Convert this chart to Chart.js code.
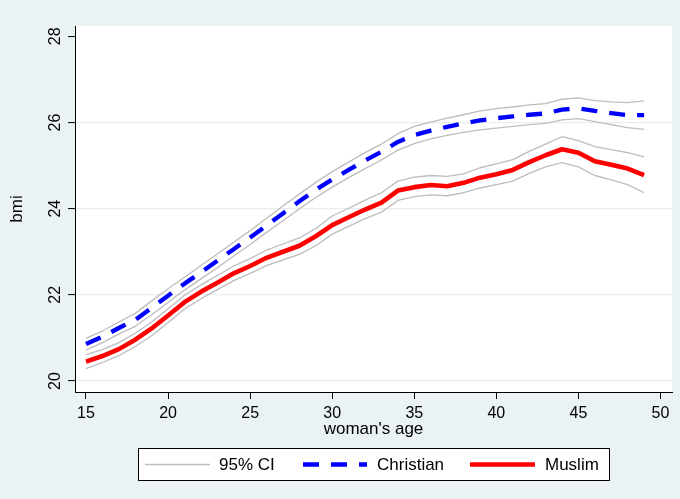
<!DOCTYPE html>
<html>
<head>
<meta charset="utf-8">
<title>BMI by woman's age</title>
<script src="https://cdn.jsdelivr.net/npm/chart.js@4.4.1/dist/chart.umd.min.js"></script>
<style>
  html, body { margin: 0; padding: 0; background: #EAF2F3; }
  canvas { display: block; }
</style>
</head>
<body>
<canvas id="chart" width="680" height="499"></canvas>
<script>
// Woman's age (years)
const ages = [15, 16, 17, 18, 19, 20, 21, 22, 23, 24, 25, 26, 27, 28, 29, 30, 31, 32,
              33, 34, 35, 36, 37, 38, 39, 40, 41, 42, 43, 44, 45, 46, 47, 48, 49];

// Mean BMI, Christian women, with 95% confidence limits
const christian = [20.86, 21.03, 21.23, 21.42, 21.70, 21.98, 22.26, 22.52, 22.79, 23.06,
                   23.33, 23.61, 23.89, 24.17, 24.44, 24.68, 24.90, 25.12, 25.32, 25.55,
                   25.71, 25.81, 25.90, 25.98, 26.05, 26.10, 26.14, 26.18, 26.21, 26.30,
                   26.33, 26.27, 26.22, 26.17, 26.17];
const christianHi = [20.99, 21.16, 21.37, 21.57, 21.86, 22.14, 22.41, 22.68, 22.95, 23.22,
                     23.49, 23.78, 24.06, 24.34, 24.61, 24.86, 25.08, 25.30, 25.50, 25.74,
                     25.91, 26.01, 26.10, 26.18, 26.27, 26.32, 26.36, 26.41, 26.44, 26.54,
                     26.57, 26.51, 26.48, 26.46, 26.50];
const christianLo = [20.72, 20.89, 21.09, 21.27, 21.54, 21.82, 22.11, 22.37, 22.63, 22.90,
                     23.17, 23.45, 23.72, 24.00, 24.26, 24.50, 24.72, 24.93, 25.13, 25.36,
                     25.51, 25.62, 25.70, 25.77, 25.83, 25.87, 25.91, 25.95, 25.98, 26.06,
                     26.09, 26.02, 25.95, 25.88, 25.84];

// Mean BMI, Muslim women, with 95% confidence limits
const muslim = [20.45, 20.58, 20.74, 20.96, 21.22, 21.52, 21.83, 22.07, 22.28, 22.50,
                22.67, 22.86, 23.00, 23.14, 23.36, 23.62, 23.80, 23.98, 24.14, 24.42,
                24.50, 24.55, 24.52, 24.60, 24.72, 24.80, 24.90, 25.08, 25.24, 25.38,
                25.30, 25.10, 25.02, 24.93, 24.78];
const muslimHi = [20.61, 20.73, 20.89, 21.11, 21.37, 21.68, 21.99, 22.23, 22.45, 22.67,
                  22.84, 23.04, 23.18, 23.32, 23.54, 23.83, 24.01, 24.20, 24.37, 24.64,
                  24.73, 24.77, 24.75, 24.81, 24.95, 25.04, 25.14, 25.33, 25.50, 25.67,
                  25.58, 25.44, 25.37, 25.30, 25.20];
const muslimLo = [20.29, 20.43, 20.59, 20.80, 21.05, 21.36, 21.67, 21.91, 22.12, 22.33,
                  22.50, 22.68, 22.81, 22.94, 23.14, 23.41, 23.59, 23.77, 23.92, 24.19,
                  24.28, 24.32, 24.30, 24.37, 24.48, 24.56, 24.64, 24.82, 24.97, 25.07,
                  24.97, 24.77, 24.67, 24.56, 24.37];

// Axis ticks
const xTicks = [15, 20, 25, 30, 35, 40, 45, 50];
const yTicks = [20, 22, 24, 26, 28];

const FONT = '"Liberation Sans", Arial, Helvetica, sans-serif';
Chart.defaults.font.family = FONT;
Chart.defaults.color = '#000';

const pts = vals => ages.map((a, i) => ({ x: a, y: vals[i] }));

const CI_COLOR = '#BDBDBD';
const ciLine = (label, vals) => ({
  label, data: pts(vals), borderColor: CI_COLOR, borderWidth: 1.3,
  pointRadius: 0, tension: 0, borderJoinStyle: 'round', ciBand: true
});

// Panel colours: bluish-grey surround, white plot region
const backdrop = {
  id: 'backdrop',
  beforeDraw(chart) {
    const { ctx, chartArea: a } = chart;
    ctx.save();
    ctx.fillStyle = '#EAF2F3';
    ctx.fillRect(0, 0, chart.width, chart.height);
    ctx.fillStyle = '#FFFFFF';
    ctx.fillRect(a.left, a.top, a.right - a.left, a.bottom - a.top);
    ctx.restore();
  }
};

// Boxed legend under the axis title: one CI entry, then the two groups
const boxLegend = {
  id: 'boxLegend',
  afterDraw(chart) {
    const { ctx } = chart;
    const ds = chart.data.datasets;
    const ci = ds.find(d => d.ciBand);
    const chr = ds.find(d => d.label === 'Christian');
    const mus = ds.find(d => d.label === 'Muslim');
    const box = { x: 138.5, y: 448.5, w: 471, h: 32 };
    const cy = box.y + box.h / 2;
    ctx.save();
    ctx.fillStyle = '#FFFFFF';
    ctx.fillRect(box.x, box.y, box.w, box.h);
    ctx.strokeStyle = '#000';
    ctx.lineWidth = 1;
    ctx.strokeRect(box.x, box.y, box.w, box.h);

    const entries = [
      { set: ci, text: '95% CI', x0: 145, x1: 210, tx: 219 },
      { set: chr, text: chr.label, x0: 303, x1: 367, tx: 377 },
      { set: mus, text: mus.label, x0: 470, x1: 535, tx: 545 }
    ];
    ctx.font = '17px ' + FONT;
    ctx.textBaseline = 'middle';
    ctx.textAlign = 'left';
    for (const e of entries) {
      ctx.beginPath();
      ctx.strokeStyle = e.set.borderColor;
      ctx.lineWidth = e.set.borderWidth;
      ctx.setLineDash(e.set.borderDash || []);
      ctx.lineCap = 'butt';
      ctx.moveTo(e.x0, cy);
      ctx.lineTo(e.x1, cy);
      ctx.stroke();
      ctx.setLineDash([]);
      ctx.fillStyle = '#000';
      ctx.fillText(e.text, e.tx, cy + 1);
    }
    ctx.restore();
  }
};

new Chart(document.getElementById('chart'), {
  type: 'line',
  data: {
    datasets: [
      { label: 'Muslim', data: pts(muslim), borderColor: '#FF0000', borderWidth: 4.6,
        pointRadius: 0, tension: 0, borderJoinStyle: 'round' },
      { label: 'Christian', data: pts(christian), borderColor: '#0000FF', borderWidth: 4.3,
        borderDash: [16, 12], pointRadius: 0, tension: 0, borderJoinStyle: 'round' },
      ciLine('Christian upper', christianHi),
      ciLine('Christian lower', christianLo),
      ciLine('Muslim upper', muslimHi),
      ciLine('Muslim lower', muslimLo)
    ]
  },
  options: {
    responsive: false,
    animation: false,
    events: [],
    layout: { padding: { top: 26, right: 8, left: 0, bottom: 0 } },
    plugins: { legend: { display: false }, tooltip: { enabled: false } },
    scales: {
      x: {
        type: 'linear',
        min: 14.33,
        max: 50.7,
        afterBuildTicks: s => { s.ticks = xTicks.map(v => ({ value: v })); },
        afterFit: s => { s.height = 107; },
        border: { display: true, color: '#000', width: 1 },
        grid: { drawOnChartArea: false, tickLength: 7, tickColor: '#000', tickWidth: 1 },
        ticks: { font: { size: 16 }, padding: 5, maxRotation: 0, autoSkip: false },
        title: { display: true, text: "woman's age", font: { size: 17 },
                 padding: { top: 0, bottom: 59 } }
      },
      y: {
        type: 'linear',
        min: 19.745,
        max: 28.24,
        afterBuildTicks: s => { s.ticks = yTicks.map(v => ({ value: v })); },
        afterFit: s => { s.width = 75; },
        border: { display: true, color: '#000', width: 1 },
        grid: {
          color: c => (c.tick && c.tick.value === 28) ? 'rgba(0,0,0,0)' : '#E6EEEF',
          lineWidth: 1.2, tickLength: 7, tickColor: '#000', tickWidth: 1
        },
        ticks: { font: { size: 16 }, padding: 4, minRotation: 90, maxRotation: 90,
                 crossAlign: 'center', autoSkip: false },
        title: { display: true, text: 'bmi', font: { size: 17 }, padding: { top: 7, bottom: 0 } }
      }
    }
  },
  plugins: [backdrop, boxLegend]
});
</script>
</body>
</html>
